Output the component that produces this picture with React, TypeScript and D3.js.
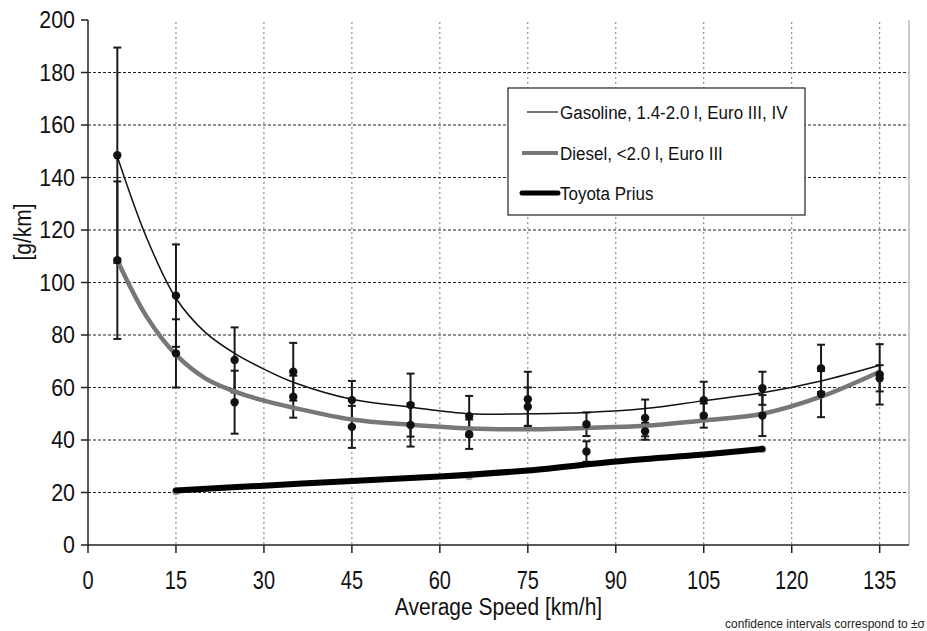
import React from "react";
import * as d3 from "d3";

const speeds = [5, 15, 25, 35, 45, 55, 65, 75, 85, 95, 105, 115, 125, 135];
const gasMean = [148.5, 95, 70.5, 66, 55.2, 53.3, 49.1, 55.5, 46, 48.4, 55.2, 59.7, 67.3, 65];
const gasSd = [41, 19.5, 12.4, 11, 7.3, 12, 7.7, 10.5, 4.5, 7, 7, 6.3, 9, 11.5];
const dieselMean = [108.5, 73, 54.4, 56.5, 45, 45.7, 42.2, 52.7, 35.6, 43.3, 49.3, 49.3, 57.5, 63.5];
const dieselSd = [30, 13, 12, 8, 8, 8.2, 5.6, 7.3, 3.9, 3.2, 4.6, 7.8, 8.8, 5];

const curveSpeeds = [5, 10, 15, 20, 25, 30, 35, 45, 55, 65, 75, 85, 95, 105, 115, 125, 135];
const gasCurve = [148, 117, 94, 81, 73, 67, 62, 55.5, 52.5, 50, 50, 50.5, 52, 55, 58, 62.5, 68.5];
const dieselCurve = [108.5, 87, 72.5, 63.5, 58.5, 55, 52.3, 47.8, 45.8, 44.4, 44.1, 44.6, 45.4, 47.4, 50, 56.5, 66];

const priusSpeeds = [15, 30, 45, 60, 75, 90, 105, 115];
const priusCurve = [20.8, 22.6, 24.4, 26.1, 28.4, 31.8, 34.5, 36.6];
const priusDotSpeeds = [15, 65, 115];
const priusDotValues = [20.5, 26.2, 36.5];

const xTicks = [0, 15, 30, 45, 60, 75, 90, 105, 120, 135];
const yTicks = [0, 20, 40, 60, 80, 100, 120, 140, 160, 180, 200];

const legendLabels = ["Gasoline, 1.4-2.0 l, Euro III, IV", "Diesel, <2.0 l, Euro III", "Toyota Prius"];
const xTitle = "Average Speed [km/h]";
const yTitle = "[g/km]";
const note = "confidence intervals correspond to \u00b1\u03c3";

const FONT = "'Liberation Sans', Arial, sans-serif";

function T(props: {
  x: number;
  y: number;
  size: number;
  sx?: number;
  sy?: number;
  rot?: number;
  anchor?: string;
  fill?: string;
  children: React.ReactNode;
}) {
  const { x, y, size, sx = 1, sy = 1, rot = 0, anchor = "start", fill = "#111", children } = props;
  return (
    <g transform={`translate(${x},${y}) rotate(${rot}) scale(${sx},${sy})`}>
      <text x={0} y={0} fontSize={size} textAnchor={anchor} fill={fill}>
        {children}
      </text>
    </g>
  );
}

export default function App() {
  const W = 927, H = 631;
  const left = 88, right = 909, top = 20, bottom = 545;
  const x = d3.scaleLinear().domain([0, 140]).range([left, right]);
  const y = d3.scaleLinear().domain([0, 200]).range([bottom, top]);

  const line = d3
    .line<[number, number]>()
    .x((d) => x(d[0]))
    .y((d) => y(d[1]))
    .curve(d3.curveCatmullRom.alpha(0.5));

  const gasPath = line(curveSpeeds.map((s, i) => [s, gasCurve[i]]))!;
  const dieselPath = line(curveSpeeds.map((s, i) => [s, dieselCurve[i]]))!;
  const priusPath = line(priusSpeeds.map((s, i) => [s, priusCurve[i]]))!;

  const cap = 4;

  const errBars = (means: number[], sds: number[], key: string) =>
    speeds.map((s, i) => {
      const cx = x(s);
      const y1 = y(means[i] + sds[i]);
      const y2 = y(means[i] - sds[i]);
      return (
        <g key={key + i} stroke="#1a1a1a" strokeWidth={2}>
          <line x1={cx} x2={cx} y1={y1} y2={y2} />
          <line x1={cx - cap} x2={cx + cap} y1={y1} y2={y1} />
          <line x1={cx - cap} x2={cx + cap} y1={y2} y2={y2} />
        </g>
      );
    });

  return (
    <svg
      width={W}
      height={H}
      style={{ position: "absolute", left: 0, top: 0, background: "#fff" }}
      fontFamily={FONT}
    >
      <rect x={0} y={0} width={W} height={H} fill="#fff" />
      {/* vertical grid */}
      {xTicks.filter((t) => t > 0).map((t) => (
        <line
          key={"vg" + t}
          x1={x(t)}
          x2={x(t)}
          y1={top + 2}
          y2={bottom}
          stroke="#777"
          strokeWidth={1}
          strokeDasharray="2,3"
        />
      ))}
      {/* horizontal grid */}
      {yTicks.filter((t) => t > 0 && t < 200).map((t) => (
        <line
          key={"hg" + t}
          x1={left}
          x2={right}
          y1={y(t)}
          y2={y(t)}
          stroke="#222"
          strokeWidth={1}
          strokeDasharray="3,2"
        />
      ))}
      {/* right border */}
      <line x1={right} x2={right} y1={top} y2={bottom} stroke="#bbb" strokeWidth={1.5} />

      {/* axes */}
      <line x1={left} x2={left} y1={top} y2={bottom} stroke="#222" strokeWidth={1.5} />
      <line x1={left} x2={right} y1={bottom} y2={bottom} stroke="#222" strokeWidth={1.5} />
      {yTicks.map((t) => (
        <g key={"yt" + t}>
          <line x1={left - 7} x2={left} y1={y(t)} y2={y(t)} stroke="#222" strokeWidth={1.5} />
          <T x={75} y={y(t) + 8} size={21} sx={1.02} sy={1.15} anchor="end">
            {t}
          </T>
        </g>
      ))}
      {xTicks.map((t) => (
        <g key={"xt" + t}>
          <line x1={x(t)} x2={x(t)} y1={bottom} y2={bottom + 8} stroke="#222" strokeWidth={1.5} />
          <T x={x(t)} y={589} size={21} sx={0.95} sy={1.2} anchor="middle">
            {t}
          </T>
        </g>
      ))}
      <T x={(left + right) / 2} y={615} size={21} sy={1.12} anchor="middle">
        {xTitle}
      </T>
      <T x={31} y={232} size={21} sy={1.1} rot={-90} anchor="middle">
        {yTitle}
      </T>
      <T x={925} y={628} size={12} sy={1.1} anchor="end" fill="#222">
        {note}
      </T>

      {/* error bars */}
      {errBars(gasMean, gasSd, "ge")}
      {errBars(dieselMean, dieselSd, "de")}

      {/* curves */}
      <path d={gasPath} fill="none" stroke="#111" strokeWidth={1.5} />
      <path d={dieselPath} fill="none" stroke="#777" strokeWidth={4.5} />
      {priusDotSpeeds.map((s, i) => (
        <circle key={"pd" + i} cx={x(s)} cy={y(priusDotValues[i])} r={4} fill="#aaa" />
      ))}
      <path d={priusPath} fill="none" stroke="#000" strokeWidth={6} strokeLinecap="round" />

      {/* points */}
      {speeds.map((s, i) => (
        <circle key={"gp" + i} cx={x(s)} cy={y(gasMean[i])} r={4.2} fill="#111" />
      ))}
      {speeds.map((s, i) => (
        <circle key={"dp" + i} cx={x(s)} cy={y(dieselMean[i])} r={4.2} fill="#111" />
      ))}

      {/* legend */}
      <rect x={508} y={88} width={297} height={127} fill="#fff" stroke="#222" strokeWidth={1.2} />
      <line x1={527} x2={558} y1={112} y2={112} stroke="#111" strokeWidth={1.2} />
      <line x1={522} x2={558} y1={153} y2={153} stroke="#777" strokeWidth={4} />
      <line x1={522} x2={558} y1={193} y2={193} stroke="#000" strokeWidth={5} strokeLinecap="round" />
      {legendLabels.map((l, i) => (
        <T key={"lg" + i} x={560} y={[118.5, 159.5, 199.5][i]} size={17} sy={1.12}>
          {l}
        </T>
      ))}
    </svg>
  );
}
